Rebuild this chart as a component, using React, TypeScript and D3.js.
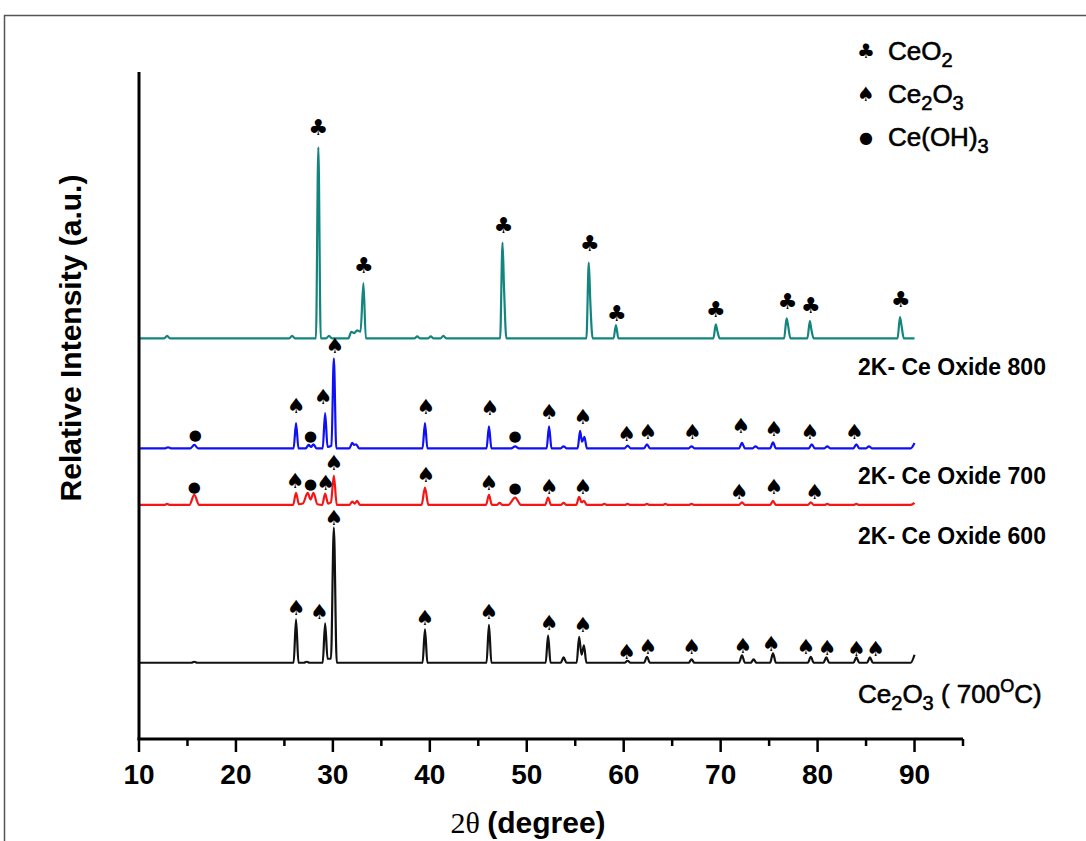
import * as d3 from 'd3';

// 2θ ticks
const majorTicks = [10, 20, 30, 40, 50, 60, 70, 80, 90];
const minorTicks = [15, 25, 35, 45, 55, 65, 75, 85, 95];

// baseline offset of each pattern (a.u.)
const offsets = { teal: 600, blue: 435, red: 350, black: 113 };

// patterns: [2θ, intensity above own baseline]
const tealPattern = [
  [10, 0], [12.6, 0], [12.9, 4], [13.2, 0], [25.5, 0], [25.8, 4], [26.1, 0],
  [28.25, 0], [28.5, 287], [28.75, 0], [29.3, 0], [29.6, 4], [29.9, 0],
  [31.6, 0], [31.9, 10], [32.2, 8], [32.5, 12], [32.85, 10], [33.15, 83], [33.4, 0],
  [38.4, 0], [38.7, 3], [39, 0], [39.8, 0], [40.1, 3], [40.4, 0], [41.1, 0], [41.4, 4], [41.7, 0],
  [47.25, 0], [47.5, 144], [47.65, 78], [47.9, 0],
  [56.15, 0], [56.4, 114], [56.55, 57], [56.8, 0],
  [58.95, 0], [59.2, 20], [59.45, 0],
  [69.25, 0], [69.5, 21], [69.65, 12], [69.9, 0],
  [76.55, 0], [76.8, 30], [76.95, 20], [77.2, 0],
  [78.95, 0], [79.2, 26], [79.35, 14], [79.6, 0],
  [88.25, 0], [88.5, 32], [88.65, 20], [88.9, 0], [90, 0],
];

const bluePattern = [
  [10, 0], [12.7, 0], [13, 1.5], [13.3, 0], [15.3, 0], [15.7, 5], [16.1, 0],
  [25.95, 0], [26.2, 38], [26.45, 0], [27.2, 0], [27.5, 5], [27.75, 2], [28.0, 6], [28.3, 0],
  [28.95, 0], [29.2, 53], [29.45, 2], [29.85, 4], [30.1, 135], [30.35, 0],
  [31.7, 0], [32.0, 8], [32.2, 5], [32.4, 6], [32.7, 0],
  [39.25, 0], [39.5, 38], [39.75, 0],
  [45.85, 0], [46.1, 33], [46.35, 0],
  [48.4, 0], [48.8, 3], [49.2, 0],
  [52.05, 0], [52.3, 33], [52.55, 0],
  [53.5, 0], [53.8, 3], [54.1, 0],
  [55.25, 0], [55.5, 26], [55.7, 10], [55.95, 17], [56.2, 0],
  [60.1, 0], [60.4, 4], [60.7, 0],
  [62.1, 0], [62.4, 6], [62.7, 0],
  [66.7, 0], [67.0, 3], [67.3, 0],
  [71.9, 0], [72.2, 8], [72.5, 0],
  [73.3, 0], [73.6, 3], [73.9, 0],
  [75.1, 0], [75.4, 9], [75.7, 0],
  [79.1, 0], [79.4, 6], [79.7, 0],
  [80.7, 0], [81.0, 3], [81.3, 0],
  [83.7, 0], [84.0, 6], [84.3, 0],
  [85.0, 0], [85.3, 3], [85.6, 0],
  [89.6, 0], [90, 8],
];

const redPattern = [
  [10, 0], [12.6, 0], [12.9, 1.5], [13.2, 0], [15.2, 0], [15.7, 15], [16.2, 0],
  [25.9, 0], [26.2, 18], [26.5, 1], [26.9, 2], [27.4, 18], [27.7, 8], [28.0, 18], [28.4, 1],
  [28.9, 0], [29.2, 17], [29.5, 2], [29.8, 4], [30.1, 44], [30.4, 0],
  [31.7, 0], [32.0, 5], [32.25, 2], [32.5, 6], [32.8, 0],
  [39.15, 0], [39.5, 26], [39.85, 0],
  [45.8, 0], [46.1, 15], [46.4, 0], [46.9, 0], [47.2, 3], [47.5, 0],
  [48.1, 0], [48.8, 11], [49.4, 0],
  [51.9, 0], [52.2, 11], [52.5, 0],
  [53.5, 0], [53.8, 3], [54.1, 0],
  [55.1, 0], [55.4, 12], [55.65, 4], [55.9, 6], [56.2, 0],
  [57.7, 0], [58.0, 1.5], [58.3, 0],
  [60.1, 0], [60.4, 1.5], [60.7, 0],
  [62.1, 0], [62.4, 1.5], [62.7, 0],
  [64.0, 0], [64.3, 1.5], [64.6, 0],
  [66.7, 0], [67.0, 1.5], [67.3, 0],
  [71.9, 0], [72.2, 4], [72.5, 0],
  [75.1, 0], [75.4, 6], [75.7, 0],
  [79.0, 0], [79.3, 4], [79.6, 0],
  [80.7, 0], [81.0, 1.5], [81.3, 0],
  [83.7, 0], [84.0, 1.5], [84.3, 0],
  [89.6, 0], [90, 3],
];

const blackPattern = [
  [10, 0], [15.4, 0], [15.7, 1.5], [16.0, 0],
  [25.95, 0], [26.2, 65], [26.45, 0], [27.0, 0], [27.3, 1.5], [27.6, 0],
  [28.95, 0], [29.2, 59], [29.45, 6], [29.8, 6], [30.1, 203], [30.4, 0],
  [39.25, 0], [39.5, 50], [39.75, 0],
  [45.85, 0], [46.1, 57], [46.35, 0],
  [51.95, 0], [52.2, 41], [52.45, 0],
  [53.5, 0], [53.8, 8], [54.1, 0],
  [55.15, 0], [55.4, 39], [55.65, 12], [55.9, 26], [56.15, 0],
  [60.1, 0], [60.4, 3], [60.7, 0],
  [62.1, 0], [62.4, 9], [62.7, 0],
  [66.7, 0], [67.0, 5], [67.3, 0],
  [71.9, 0], [72.2, 11], [72.5, 0],
  [73.1, 0], [73.4, 5], [73.7, 0],
  [75.1, 0], [75.4, 14], [75.7, 0],
  [79.0, 0], [79.3, 9], [79.6, 0],
  [80.6, 0], [80.9, 8], [81.2, 0],
  [83.7, 0], [84.0, 8], [84.3, 0],
  [85.1, 0], [85.4, 8], [85.7, 0],
  [89.6, 0], [90, 12],
];

// phase markers: [2θ, absolute intensity, kind]  c = CeO2, s = Ce2O3, d = Ce(OH)3
const tealMarks = [
  [28.5, 916, 'c'], [33.2, 710, 'c'], [47.6, 769, 'c'], [56.5, 742, 'c'], [59.3, 638, 'c'],
  [69.5, 643, 'c'], [76.9, 656, 'c'], [79.3, 650, 'c'], [88.6, 658, 'c'],
];
const blueMarks = [
  [15.8, 455, 'd'], [26.2, 498, 's'], [27.7, 453, 'd'], [29.0, 512, 's'], [30.2, 589, 's'],
  [39.6, 497, 's'], [46.2, 495, 's'], [48.8, 453, 'd'], [52.3, 489, 's'], [55.8, 482, 's'],
  [60.3, 456, 's'], [62.5, 459, 's'], [67.1, 459, 's'], [72.1, 468, 's'], [75.5, 464, 's'],
  [79.2, 459, 's'], [83.8, 459, 's'],
];
const redMarks = [
  [15.7, 377, 'd'], [26.1, 386, 's'], [27.7, 381, 'd'], [29.25, 383, 's'], [30.1, 413, 's'],
  [39.6, 395, 's'], [46.1, 383, 's'], [48.8, 375, 'd'], [52.3, 377, 's'], [55.8, 377, 's'],
  [71.9, 369, 's'], [75.5, 377, 's'], [79.7, 369, 's'],
];
const blackMarks = [
  [26.2, 195, 's'], [28.6, 189, 's'], [30.1, 330, 's'], [39.5, 180, 's'], [46.1, 189, 's'],
  [52.3, 173, 's'], [55.8, 170, 's'], [60.3, 129, 's'], [62.5, 137, 's'], [67.0, 137, 's'],
  [72.3, 138, 's'], [75.2, 141, 's'], [78.8, 137, 's'], [81.0, 135, 's'], [84.0, 134, 's'],
  [86.0, 134, 's'],
];

const glyph = { c: '\u2663', s: '\u2660', d: '\u25CF' };
const glyphSize = { c: 22, s: 21, d: 15 };

const series = [
  { key: 'teal', color: '#13857e', data: tealPattern, marks: tealMarks },
  { key: 'blue', color: '#1010f5', data: bluePattern, marks: blueMarks },
  { key: 'red', color: '#f51515', data: redPattern, marks: redMarks },
  { key: 'black', color: '#111111', data: blackPattern, marks: blackMarks },
];

const sans = 'Liberation Sans, Arial, sans-serif';

const App = () => {
  const width = 1086;
  const height = 841;
  const x = d3.scaleLinear().domain([10, 95]).range([139, 963]);
  const y = d3.scaleLinear().domain([0, 1000]).range([738, 72]);

  const line = (off) =>
    d3.line().x(d => x(d[0])).y(d => y(d[1] + off)).curve(d3.curveMonotoneX);

  const sub = (t, fs = 18) => <tspan dy={7} fontSize={fs}>{t}</tspan>;

  return (
    <svg width={width} height={height} style={{ position: 'absolute', left: 0, top: 0, background: '#fff' }}
      fontFamily={sans}>
      <rect x={0} y={0} width={width} height={height} fill="#fff" />
      <rect x={4.5} y={15.5} width={1200} height={1000} fill="none" stroke="#555" strokeWidth={1.5} />

      {/* traces */}
      {series.map(s => (
        <path key={s.key} d={line(offsets[s.key])(s.data)} fill="none" stroke={s.color}
          strokeWidth={2.2} strokeLinejoin="round" />
      ))}

      {/* phase markers */}
      {series.map(s => s.marks.map((m, i) => (
        <text key={s.key + i} x={x(m[0])} y={y(m[1])} textAnchor="middle" dominantBaseline="central"
          fontFamily="DejaVu Sans" fontSize={glyphSize[m[2]]} fill="#000">{glyph[m[2]]}</text>
      )))}

      {/* axes */}
      <line x1={139} x2={139} y1={72} y2={740} stroke="#000" strokeWidth={3} />
      <line x1={137.5} x2={x(95)} y1={739} y2={739} stroke="#000" strokeWidth={3} />
      {majorTicks.map(t => (
        <g key={'M' + t}>
          <line x1={x(t)} x2={x(t)} y1={739} y2={752} stroke="#000" strokeWidth={2.5} />
          <text x={x(t)} y={784} textAnchor="middle" fontSize={28} fontWeight="bold">{t}</text>
        </g>
      ))}
      {minorTicks.map(t => (
        <line key={'m' + t} x1={x(t)} x2={x(t)} y1={739} y2={746} stroke="#000" strokeWidth={2.5} />
      ))}

      {/* axis titles */}
      <text x={528} y={833} textAnchor="middle" fontSize={30}>
        <tspan fontFamily="Liberation Serif, serif">2θ </tspan>
        <tspan fontWeight="bold">(degree)</tspan>
      </text>
      <text transform="translate(81,338) rotate(-90)" textAnchor="middle" fontSize={30} fontWeight="bold">
        Relative Intensity (a.u.)
      </text>

      {/* sample labels */}
      <g fontSize={23} fontWeight="bold">
        <text x={858} y={375}>2K- Ce Oxide 800</text>
        <text x={858} y={484}>2K- Ce Oxide 700</text>
        <text x={858} y={544}>2K- Ce Oxide 600</text>
        <text x={858} y={703} fontSize={26} fontWeight="normal" stroke="#000" strokeWidth={0.6}>
          Ce{sub('2', 20)}<tspan dy={-7}>O</tspan>{sub('3', 20)}<tspan dy={-7}> ( 700</tspan>
          <tspan dy={-11} fontSize={18}>O</tspan><tspan dy={11}>C)</tspan>
        </text>
      </g>

      {/* legend */}
      <g fontFamily="DejaVu Sans" textAnchor="middle" dominantBaseline="central">
        <text x={866} y={51} fontSize={20}>{glyph.c}</text>
        <text x={866} y={94} fontSize={20}>{glyph.s}</text>
        <text x={866} y={137} fontSize={16}>{glyph.d}</text>
      </g>
      <g fontSize={26} fontWeight="normal" stroke="#000" strokeWidth={0.6}>
        <text x={888} y={60}>CeO{sub('2', 20)}</text>
        <text x={888} y={103}>Ce{sub('2', 20)}<tspan dy={-7}>O</tspan>{sub('3', 20)}</text>
        <text x={888} y={146}>Ce(OH){sub('3', 20)}</text>
      </g>
    </svg>
  );
};

export default App;
